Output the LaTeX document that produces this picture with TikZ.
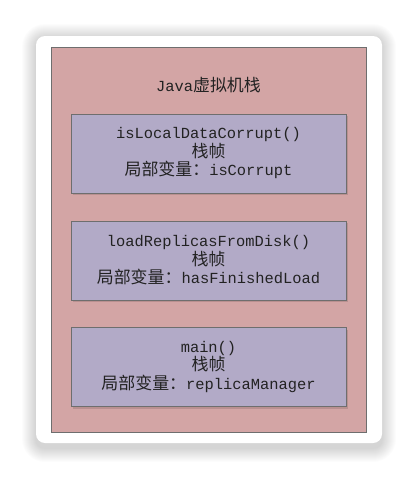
\documentclass[tikz,border=0pt]{standalone}
\usepackage{fontspec}
\setmainfont{Liberation Mono}
\newfontfamily\cjk{Noto Sans CJK SC}[Scale=1.1]
\usetikzlibrary{positioning}
\definecolor{stackpink}{HTML}{D3A5A5}
\definecolor{framepurple}{HTML}{B2AAC7}
\definecolor{edgegray}{HTML}{6E6E6E}
\definecolor{inkgray}{HTML}{222222}
\tikzset{
  stack/.style={draw=edgegray, line width=1pt, fill=stackpink, minimum width=315pt, minimum height=385pt, inner sep=0pt},
  frame/.style={draw=edgegray, line width=1pt, fill=framepurple, minimum width=275pt, minimum height=79pt,
    align=center, text=inkgray, font=\fontsize{15.4}{18.5}\selectfont, inner sep=0pt},
  title/.style={text=inkgray, font=\fontsize{15.4}{18.5}\selectfont, inner sep=0pt}
}
\begin{document}
\begin{tikzpicture}[x=1pt,y=-1pt]
      \useasboundingbox (0,0) rectangle (418,480);
      % card shadow
      \foreach \i in {1,...,14}
        \fill[black, opacity=0.011, rounded corners=9pt+\i pt] (36-\i,38-\i) rectangle (382+\i,448+\i);
      \fill[white, rounded corners=9pt] (36,36) rectangle (382,443);
      \node[stack] (jvm) at (208.5,239.5) {};
      \node[title] (jvmtitle) at (208.5,85) {Java{\cjk 虚拟机栈}};
      % small shadows under the frames
      \foreach \y in {153.5,260.5,367}
        \fill[black, opacity=0.12] (73,\y-37.5) rectangle (348,\y+41.5);
      \node[frame] (top) at (208.5,153.5) {isLocalDataCorrupt()\\{\cjk 栈帧}\\{\cjk 局部变量：}isCorrupt};
      \node[frame] (mid) at (208.5,260.5) {loadReplicasFromDisk()\\{\cjk 栈帧}\\{\cjk 局部变量：}hasFinishedLoad};
      \node[frame] (bottom) at (208.5,367) {main()\\{\cjk 栈帧}\\{\cjk 局部变量：}replicaManager};
\end{tikzpicture}
\end{document}
